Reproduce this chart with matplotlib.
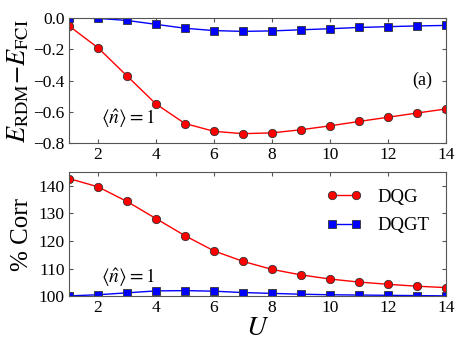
import numpy as np
import matplotlib
matplotlib.use("Agg")
import matplotlib.pyplot as plt

plt.rcParams['font.family'] = ['Liberation Serif', 'DejaVu Serif']
plt.rcParams['mathtext.fontset'] = 'stix'

# data
U = [1, 2, 3, 4, 5, 6, 7, 8, 9, 10, 11, 12, 13, 14]
dE_dqg = [-0.05, -0.19, -0.37, -0.55, -0.675, -0.725, -0.74, -0.735,
          -0.715, -0.69, -0.662, -0.635, -0.608, -0.582]
dE_dqgt = [0.0, -0.002, -0.015, -0.04, -0.065, -0.08, -0.085, -0.082,
           -0.075, -0.068, -0.06, -0.055, -0.05, -0.047]
corr_dqg = [142.6, 139.6, 134.3, 128.1, 121.9, 116.4, 112.6, 109.7,
            107.7, 106.2, 105.1, 104.3, 103.6, 103.1]
corr_dqgt = [100.1, 100.5, 101.2, 101.9, 102.0, 101.8, 101.3, 101.0,
             100.7, 100.5, 100.4, 100.3, 100.2, 100.1]

fig = plt.figure(figsize=(4.63, 3.48), dpi=100)
ax1 = fig.add_axes([0.149, 0.589, 0.814, 0.359])
ax2 = fig.add_axes([0.149, 0.149, 0.814, 0.357])

for ax in (ax1, ax2):
    for s in ax.spines.values():
        s.set_color('#555555')
    ax.tick_params(direction='in', top=True, right=True, length=3,
                   color='#555555', labelsize=12.5, pad=3)
    ax.set_xlim(1, 14)
    ax.set_xticks([2, 4, 6, 8, 10, 12, 14])

# top panel
ax1.plot(U, dE_dqg, '-o', color='red', ms=6, mec='#333333', mew=0.6, lw=1)
ax1.plot(U, dE_dqgt, '-s', color='blue', ms=6, mec='#333333', mew=0.6, lw=1)
ax1.set_ylim(-0.8, 0.0)
ax1.set_yticks([-0.8, -0.6, -0.4, -0.2, 0.0])
ax1.set_ylabel(r'$E_{\rm RDM}{-}E_{\rm FCI}$', fontsize=19, labelpad=2)
ax1.text(13.2, -0.40, '(a)', fontsize=13, ha='center', va='center')
ax1.text(2.1, -0.64, r'$\langle\hat{n}\rangle=1$', fontsize=14, va='center')

# bottom panel
ax2.plot(U, corr_dqg, '-o', color='red', ms=6, mec='#333333', mew=0.6, lw=1,
         label='DQG')
ax2.plot(U, corr_dqgt, '-s', color='blue', ms=6, mec='#333333', mew=0.6, lw=1,
         label='DQGT')
ax2.set_ylim(100, 145)
ax2.set_yticks([100, 110, 120, 130, 140])
ax2.set_ylabel('% Corr', fontsize=18, labelpad=4)
ax2.set_xlabel(r'$U$', fontsize=20, labelpad=0)
ax2.text(2.1, 106.6, r'$\langle\hat{n}\rangle=1$', fontsize=14, va='center')
ax2.legend(loc='upper right', frameon=False, numpoints=2, fontsize=13.5,
           handlelength=1.9, handletextpad=0.8, borderaxespad=0.5,
           labelspacing=0.6)

fig.savefig('out.png', dpi=100)
